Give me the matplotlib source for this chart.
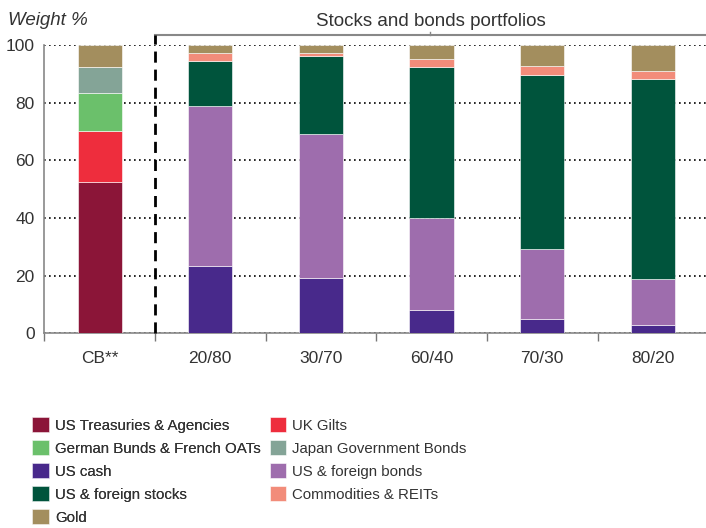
import numpy as np
import matplotlib.pyplot as plt

plt.rcParams['font.family'] = ['Liberation Sans', 'DejaVu Sans']

categories = ['CB**', '20/80', '30/70', '60/40', '70/30', '80/20']
series = ['US Treasuries & Agencies', 'UK Gilts', 'German Bunds & French OATs',
          'Japan Government Bonds', 'US cash', 'US & foreign bonds',
          'US & foreign stocks', 'Commodities & REITs', 'Gold']
colors = ['#8B1538', '#EE2D3D', '#6BC06B', '#84A497', '#48298B',
          '#9E6DAD', '#00543C', '#F28C7A', '#A38E5E']

us_treasuries = [52.4, 0, 0, 0, 0, 0]
uk_gilts = [17.7, 0, 0, 0, 0, 0]
german_bunds = [13.2, 0, 0, 0, 0, 0]
japan_bonds = [9.2, 0, 0, 0, 0, 0]
us_cash = [0, 23.4, 19.2, 8.0, 4.9, 2.7]
bonds = [0, 55.3, 49.9, 32.0, 24.4, 16.0]
stocks = [0, 15.7, 27.1, 52.5, 60.4, 69.5]
commodities = [0, 2.8, 1.0, 2.6, 2.9, 2.8]
gold = [7.5, 2.8, 2.8, 4.9, 7.4, 9.0]

values = [us_treasuries, uk_gilts, german_bunds, japan_bonds, us_cash,
          bonds, stocks, commodities, gold]

txt = '#333333'
fig = plt.figure(figsize=(7.06, 5.28), dpi=100)
ax = fig.add_axes([0.0628, 0.369, 0.9372, 0.546])

x = np.arange(len(categories))
bottom = np.zeros(len(categories))
handles = []
for name, vals, c in zip(series, values, colors):
    vals = np.array(vals)
    h = ax.bar(x, vals, 0.4, bottom=bottom, color=c, edgecolor='white',
               linewidth=0.4, label=name, zorder=3)
    handles.append(h)
    bottom += vals

ax.set_ylim(0, 100)
ax.set_xlim(-0.5, 5.48)
ax.set_yticks([0, 20, 40, 60, 80, 100])
ax.yaxis.grid(True, linestyle=(0, (1, 2)), color='black', linewidth=1.2, zorder=0)
ax.set_xticks(x)
ax.set_xticklabels(categories)
ax.set_xticks(np.arange(-0.5, 5.5, 1), minor=True)
ax.tick_params(axis='x', which='major', length=0, pad=13, labelsize=12.5, colors=txt)
ax.tick_params(axis='x', which='minor', length=6, width=1, color='#777777')
ax.tick_params(axis='y', length=0, pad=7, labelsize=12.5, colors=txt)
for s in ['top', 'right']:
    ax.spines[s].set_visible(False)
for s in ['left', 'bottom']:
    ax.spines[s].set_color('#888888')
    ax.spines[s].set_linewidth(1.2)

# separator and bracket
ax.plot([0.5, 0.5], [0, 103.5], color='black', linestyle=(0, (4, 2.5)),
        linewidth=2, clip_on=False, zorder=4)
ax.plot([0.5, 5.48], [103.5, 103.5], color='#888888', linewidth=1.5, clip_on=False)
ax.plot([0.5, 0.5], [103.5, 100.5], color='#888888', linewidth=1.2, clip_on=False)
ax.plot([2.99, 2.99], [103.5, 104.6], color='#888888', linewidth=1.0, clip_on=False)
ax.text(2.99, 105.3, 'Stocks and bonds portfolios', ha='center', va='bottom',
        fontsize=13.5, color=txt)
fig.text(0.011, 0.962, 'Weight %', style='italic', fontsize=13.5, color=txt,
         ha='left', va='center')

# legend in two columns placed separately
legkw = dict(loc='upper left', frameon=False, fontsize=10.8, handlelength=1.1,
             handleheight=1.15, handletextpad=0.4, labelspacing=0.5,
             labelcolor=txt, borderaxespad=0, borderpad=0)
col1 = [0, 2, 4, 6, 8]
col2 = [1, 3, 5, 7]
leg1 = fig.legend([handles[i] for i in col1], [series[i] for i in col1],
                  bbox_to_anchor=(0.046, 0.21), **legkw)
fig.add_artist(leg1)
fig.legend([handles[i] for i in col2], [series[i] for i in col2],
           bbox_to_anchor=(0.382, 0.21), **legkw)

fig.savefig('out.png', dpi=100)
